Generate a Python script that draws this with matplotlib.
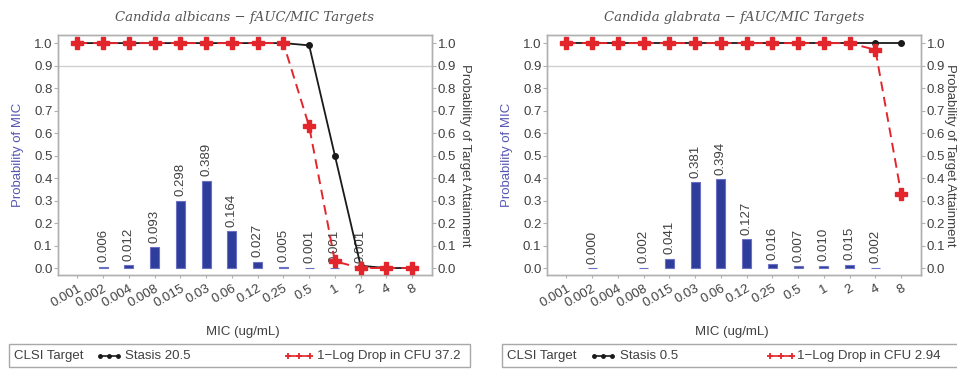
import numpy as np
import matplotlib
matplotlib.use("Agg")
import matplotlib.pyplot as plt
from matplotlib.lines import Line2D
from matplotlib.patches import Rectangle

plt.rcParams['font.family'] = ['Liberation Sans', 'DejaVu Sans']

# MIC categories (ug/mL)
mic_labels = ['0.001', '0.002', '0.004', '0.008', '0.015', '0.03', '0.06',
              '0.12', '0.25', '0.5', '1', '2', '4', '8']

# Candida albicans
alb_mic_prob = [np.nan, 0.006, 0.012, 0.093, 0.298, 0.389, 0.164,
                0.027, 0.005, 0.001, 0.001, 0.001, np.nan, np.nan]
alb_stasis = [1.0, 1.0, 1.0, 1.0, 1.0, 1.0, 1.0, 1.0, 1.0, 0.99, 0.50, 0.01, 0.0, 0.0]
alb_logdrop = [1.0, 1.0, 1.0, 1.0, 1.0, 1.0, 1.0, 1.0, 1.0, 0.63, 0.03, 0.0, 0.0, 0.0]
alb_targets = (20.5, 37.2)

# Candida glabrata
gla_mic_prob = [np.nan, 0.000, np.nan, 0.002, 0.041, 0.381, 0.394,
                0.127, 0.016, 0.007, 0.010, 0.015, 0.002, np.nan]
gla_stasis = [1.0] * 14
gla_logdrop = [1.0, 1.0, 1.0, 1.0, 1.0, 1.0, 1.0, 1.0, 1.0, 1.0, 1.0, 1.0, 0.97, 0.33]
gla_targets = (0.5, 2.94)

clsi_target = 0.9

W, H = 957, 369
fig = plt.figure(figsize=(W / 100, H / 100), dpi=100)

TXT = '#404040'
SPINE = '#b0b0b0'
BAR = '#2e3d9a'
BLACK = '#1a1a1a'
RED = '#e3262b'
YLAB = '#5656b4'
FS = 9.5


def fx(px):
    return px / W


def fy(py):
    return 1 - py / H


def panel(left_px, title, probs, stasis, logdrop, rlabel_x):
    ax = fig.add_axes([fx(left_px), fy(275), fx(374), 240 / H])
    x = np.arange(len(mic_labels))
    ax.set_xlim(-0.75, 13.77)
    ylim = (-0.031, 1.036)
    ax.set_ylim(*ylim)

    ax.axhline(clsi_target, color='#d0d0d0', lw=1, zorder=1)

    vals = np.array(probs, dtype=float)
    mask = ~np.isnan(vals)
    ax.bar(x[mask], vals[mask], width=0.35, color=BAR, edgecolor='#6b70c4',
           linewidth=0.8, zorder=2)
    for xi, v in zip(x[mask], vals[mask]):
        ax.text(xi, v + 0.02, f'{v:.3f}', rotation=90, ha='center', va='bottom',
                fontsize=FS, color=TXT, zorder=3)

    ax2 = ax.twinx()
    ax2.set_ylim(*ylim)
    ax2.set_xlim(-0.75, 13.77)
    ax2.plot(x, stasis, color=BLACK, lw=1.3, marker='o', ms=4, zorder=3)
    ax2.plot(x, logdrop, color=RED, lw=1.4, ls=(0, (5, 3)), marker='P', ms=8,
             mec=RED, mfc=RED, zorder=4)

    yt = np.round(np.arange(0, 1.01, 0.1), 1)
    for a in (ax, ax2):
        a.set_yticks(yt)
        a.set_yticklabels([f'{t:.1f}' for t in yt])
        a.tick_params(axis='y', length=3, width=0.8, color=SPINE, labelcolor=TXT,
                      labelsize=FS, pad=1)
        for s in a.spines.values():
            s.set_color(SPINE)
            s.set_linewidth(1.0)

    ax.set_xticks(x)
    ax.set_xticklabels(mic_labels, rotation=30, ha='right', rotation_mode='anchor')
    ax.tick_params(axis='x', length=2.5, width=0.8, color=SPINE, labelcolor=TXT,
                   labelsize=FS, pad=3)
    ax2.tick_params(axis='x', bottom=False, labelbottom=False)

    ax.set_ylabel('Probability of MIC', color=YLAB, fontsize=FS, labelpad=7)
    fig.text(fx(rlabel_x), fy(155), 'Probability of Target Attainment',
             rotation=270, ha='center', va='center', fontsize=FS, color=TXT)
    fig.text(fx(left_px + 185), fy(332), 'MIC (ug/mL)', ha='center', va='center',
             fontsize=FS, color=TXT)
    fig.text(fx(left_px + 187), fy(17), title, ha='center', va='center',
             fontsize=9.5, color='#555555', family='DejaVu Serif', style='italic')
    return ax


def legend_box(x0, x1, stasis_h, stasis_t, red_h, red_t, targets):
    fig.add_artist(Rectangle((fx(x0), fy(367)), fx(x1 - x0), 23 / H,
                             transform=fig.transFigure, fill=False,
                             edgecolor='#a8a8a8', lw=1.0))
    yc = fy(356)
    fig.text(fx(x0 + 5), yc, 'CLSI Target', ha='left', va='center',
             fontsize=FS, color=TXT)
    hx = [fx(stasis_h), fx(stasis_h + 9), fx(stasis_h + 18)]
    fig.add_artist(Line2D(hx, [yc] * 3, transform=fig.transFigure, color=BLACK,
                          lw=1.2, marker='o', ms=2.5))
    fig.text(fx(stasis_t), yc, f'Stasis {targets[0]:g}', ha='left', va='center',
             fontsize=FS, color=TXT)
    rx = [fx(red_h), fx(red_h + 11), fx(red_h + 22)]
    fig.add_artist(Line2D(rx, [yc] * 3, transform=fig.transFigure, color=RED,
                          lw=1.2, marker='+', ms=5, mew=1.3))
    fig.text(fx(red_t), yc, f'1\u2212Log Drop in CFU {targets[1]:g}', ha='left',
             va='center', fontsize=FS, color=TXT)


panel(58, 'Candida albicans \u2212 fAUC/MIC Targets', alb_mic_prob, alb_stasis,
      alb_logdrop, 465)
panel(547, 'Candida glabrata \u2212 fAUC/MIC Targets', gla_mic_prob, gla_stasis,
      gla_logdrop, 950)

legend_box(9, 470, 100, 125, 288, 317, alb_targets)
legend_box(502, 960, 594, 620, 770, 797, gla_targets)

fig.savefig('out.png', dpi=100)
